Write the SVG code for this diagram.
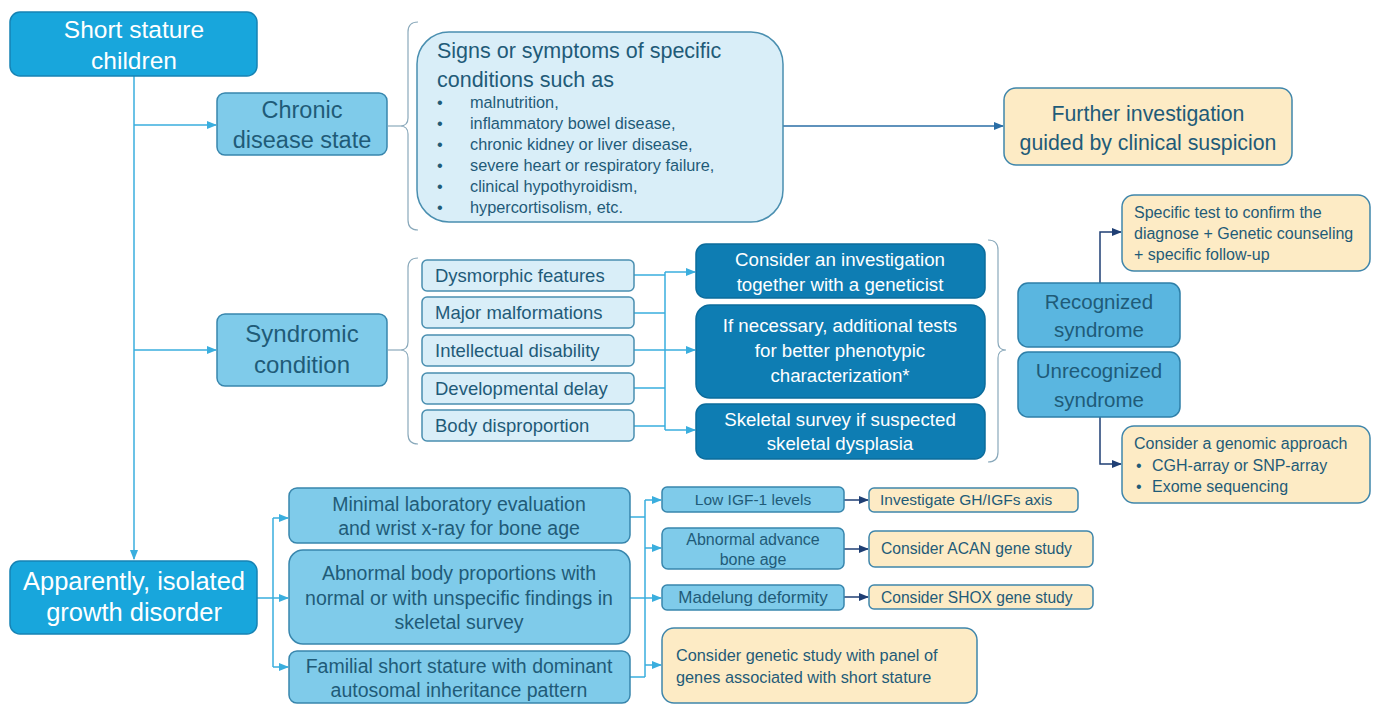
<svg xmlns="http://www.w3.org/2000/svg" width="1382" height="704" viewBox="0 0 1382 704">
<defs>
<style>
text{font-family:"Liberation Sans",Arial,sans-serif;}
.main{fill:#18a6dc;stroke:#1683b4;stroke-width:1.5;}
.mid{fill:#7fcbea;stroke:#3886ad;stroke-width:1.5;}
.med{fill:#5ab6e0;stroke:#2e7fa8;stroke-width:1.5;}
.pale{fill:#d9eef8;stroke:#4a8fb0;stroke-width:1.5;}
.dark{fill:#0e7db3;stroke:#0b6c9c;stroke-width:1.5;}
.tan{fill:#fdebc5;stroke:#3f86ab;stroke-width:1.5;}
.wt{fill:#ffffff;text-anchor:middle;}
.dt{fill:#1f5b78;}
.c{text-anchor:middle;}
.ln{fill:none;stroke:#3aaede;stroke-width:1.5;}
.nv{fill:none;stroke:#1f3f74;stroke-width:1.5;}
.bl{fill:none;stroke:#2a6ea6;stroke-width:1.5;}
.br{fill:none;stroke:#8aa9bb;stroke-width:1.2;}
</style>
<marker id="ac" viewBox="0 0 10 10" refX="9" refY="5" markerWidth="7" markerHeight="7" orient="auto"><path d="M0,1 L10,5 L0,9 z" fill="#3aaede"/></marker>
<marker id="an" viewBox="0 0 10 10" refX="9" refY="5" markerWidth="7" markerHeight="7" orient="auto"><path d="M0,1 L10,5 L0,9 z" fill="#1f3f74"/></marker>
<marker id="ab" viewBox="0 0 10 10" refX="9" refY="5" markerWidth="7" markerHeight="7" orient="auto"><path d="M0,1 L10,5 L0,9 z" fill="#2a6ea6"/></marker>
</defs>

<g id="connectors">
<path class="ln" d="M134,76 L134,559" marker-end="url(#ac)"/>
<path class="ln" d="M134,125 L216,125" marker-end="url(#ac)"/>
<path class="ln" d="M134,350 L216,350" marker-end="url(#ac)"/>
<path class="bl" d="M783,126 L1003,126" marker-end="url(#ab)"/>
<path class="br" d="M388,126 L400,126"/>
<path class="br" d="M388,350 L400,350"/>
<path class="br" d="M418,22 Q408,22 408,32 L408,118 Q408,126 400,126 Q408,126 408,134 L408,220 Q408,230 418,230"/>
<path class="br" d="M418,258 Q408,258 408,268 L408,342 Q408,350 400,350 Q408,350 408,358 L408,434 Q408,444 418,444"/>
<path class="br" d="M988,240 Q998,240 998,250 L998,342 Q998,350 1006,350 Q998,350 998,358 L998,452 Q998,462 988,462"/>
<path class="ln" d="M634,275 L665,275 M634,313 L665,313 M634,350 L665,350 M634,388 L665,388 M634,426 L665,426 M665,272 L665,430"/>
<path class="ln" d="M665,272 L695,272" marker-end="url(#ac)"/>
<path class="ln" d="M665,350 L695,350" marker-end="url(#ac)"/>
<path class="ln" d="M665,430 L695,430" marker-end="url(#ac)"/>
<path class="nv" d="M1100,283 L1100,232 L1121,232" marker-end="url(#an)"/>
<path class="nv" d="M1100,417 L1100,464 L1121,464" marker-end="url(#an)"/>
<path class="ln" d="M257,598 L273,598 M273,518 L273,667"/>
<path class="ln" d="M273,518 L288,518" marker-end="url(#ac)"/>
<path class="ln" d="M273,598 L288,598" marker-end="url(#ac)"/>
<path class="ln" d="M273,667 L288,667" marker-end="url(#ac)"/>
<path class="ln" d="M630,517 L645,517 M630,677 L645,677 M645,500 L645,677"/>
<path class="ln" d="M645,500 L661,500" marker-end="url(#ac)"/>
<path class="ln" d="M645,548 L661,548" marker-end="url(#ac)"/>
<path class="ln" d="M630,598 L661,598" marker-end="url(#ac)"/>
<path class="ln" d="M645,665 L661,665" marker-end="url(#ac)"/>
<path class="nv" d="M844,500 L868,500" marker-end="url(#an)"/>
<path class="nv" d="M844,549 L868,549" marker-end="url(#an)"/>
<path class="nv" d="M844,597 L868,597" marker-end="url(#an)"/>
</g>

<g id="short-stature">
<rect class="main" x="10" y="12" width="247" height="64" rx="10"/>
<text class="wt" x="134" y="38" font-size="24.5">Short stature</text>
<text class="wt" x="134" y="69" font-size="24.5">children</text>
</g>

<g id="chronic">
<rect class="mid" x="217" y="93" width="170" height="62" rx="8"/>
<text class="dt c" x="302" y="118" font-size="23.5">Chronic</text>
<text class="dt c" x="302" y="148" font-size="23.5">disease state</text>
</g>

<g id="signs">
<rect class="pale" x="417" y="32" width="366" height="190" rx="32"/>
<text class="dt" x="437" y="58" font-size="21.5">Signs or symptoms of specific</text>
<text class="dt" x="437" y="87" font-size="21.5">conditions such as</text>
<g class="dt" font-size="16.3">
<text x="437" y="108">•</text><text x="470" y="108">malnutrition,</text>
<text x="437" y="129">•</text><text x="470" y="129">inflammatory bowel disease,</text>
<text x="437" y="150">•</text><text x="470" y="150">chronic kidney or liver disease,</text>
<text x="437" y="171">•</text><text x="470" y="171">severe heart or respiratory failure,</text>
<text x="437" y="192">•</text><text x="470" y="192">clinical hypothyroidism,</text>
<text x="437" y="213">•</text><text x="470" y="213">hypercortisolism, etc.</text>
</g>
</g>

<g id="further">
<rect class="tan" x="1004" y="88" width="288" height="77" rx="12"/>
<text class="dt c" x="1148" y="121" font-size="21.3">Further investigation</text>
<text class="dt c" x="1148" y="150" font-size="21.3">guided by clinical suspicion</text>
</g>

<g id="syndromic">
<rect class="mid" x="217" y="314" width="170" height="72" rx="8"/>
<text class="dt c" x="302" y="342" font-size="24">Syndromic</text>
<text class="dt c" x="302" y="373" font-size="24">condition</text>
</g>

<g id="features" font-size="18.5">
<rect class="pale" x="422" y="260" width="212" height="31" rx="5"/>
<text class="dt" x="435" y="282">Dysmorphic features</text>
<rect class="pale" x="422" y="297" width="212" height="31" rx="5"/>
<text class="dt" x="435" y="319">Major malformations</text>
<rect class="pale" x="422" y="335" width="212" height="31" rx="5"/>
<text class="dt" x="435" y="357">Intellectual disability</text>
<rect class="pale" x="422" y="373" width="212" height="31" rx="5"/>
<text class="dt" x="435" y="395">Developmental delay</text>
<rect class="pale" x="422" y="410" width="212" height="31" rx="5"/>
<text class="dt" x="435" y="432">Body disproportion</text>
</g>

<g id="geneticist">
<rect class="dark" x="696" y="244" width="289" height="54" rx="10"/>
<text class="wt" x="840" y="266" font-size="18.7">Consider an investigation</text>
<text class="wt" x="840" y="291" font-size="18.7">together with a geneticist</text>
</g>
<g id="additional">
<rect class="dark" x="696" y="305" width="289" height="93" rx="14"/>
<text class="wt" x="840" y="332" font-size="18.7">If necessary, additional tests</text>
<text class="wt" x="840" y="357" font-size="18.7">for better phenotypic</text>
<text class="wt" x="840" y="382" font-size="18.7">characterization*</text>
</g>
<g id="skeletal">
<rect class="dark" x="696" y="404" width="289" height="55" rx="10"/>
<text class="wt" x="840" y="426" font-size="18.7">Skeletal survey if suspected</text>
<text class="wt" x="840" y="450" font-size="18.7">skeletal dysplasia</text>
</g>

<g id="recognized">
<rect class="med" x="1018" y="283" width="162" height="64" rx="10"/>
<text class="dt c" x="1099" y="309" font-size="20.5">Recognized</text>
<text class="dt c" x="1099" y="337" font-size="20.5">syndrome</text>
</g>
<g id="unrecognized">
<rect class="med" x="1018" y="352" width="162" height="65" rx="10"/>
<text class="dt c" x="1099" y="378" font-size="20.5">Unrecognized</text>
<text class="dt c" x="1099" y="407" font-size="20.5">syndrome</text>
</g>

<g id="specific-test" font-size="16">
<rect class="tan" x="1122" y="195" width="248" height="76" rx="12"/>
<text class="dt" x="1134" y="218">Specific test to confirm the</text>
<text class="dt" x="1134" y="239">diagnose + Genetic counseling</text>
<text class="dt" x="1134" y="260">+ specific follow-up</text>
</g>
<g id="genomic" font-size="16">
<rect class="tan" x="1122" y="426" width="248" height="77" rx="12"/>
<text class="dt" x="1134" y="449">Consider a genomic approach</text>
<text class="dt" x="1136" y="471">•</text><text class="dt" x="1152" y="471">CGH-array or SNP-array</text>
<text class="dt" x="1136" y="492">•</text><text class="dt" x="1152" y="492">Exome sequencing</text>
</g>

<g id="apparently">
<rect class="main" x="10" y="561" width="247" height="73" rx="10"/>
<text class="wt" x="134" y="590" font-size="25.5">Apparently, isolated</text>
<text class="wt" x="134" y="621" font-size="25.5">growth disorder</text>
</g>

<g id="minimal">
<rect class="mid" x="289" y="488" width="341" height="55" rx="8"/>
<text class="dt c" x="459" y="511" font-size="19.5">Minimal laboratory evaluation</text>
<text class="dt c" x="459" y="535" font-size="19.5">and wrist x-ray for bone age</text>
</g>
<g id="abnormal-proportions">
<rect class="mid" x="289" y="550" width="341" height="94" rx="14"/>
<text class="dt c" x="459" y="580" font-size="19.5">Abnormal body proportions with</text>
<text class="dt c" x="459" y="605" font-size="19.5">normal or with unspecific findings in</text>
<text class="dt c" x="459" y="629" font-size="19.5">skeletal survey</text>
</g>
<g id="familial">
<rect class="mid" x="289" y="651" width="341" height="52" rx="8"/>
<text class="dt c" x="459" y="673" font-size="19.5">Familial short stature with dominant</text>
<text class="dt c" x="459" y="697" font-size="19.5">autosomal inheritance pattern</text>
</g>

<g id="low-igf">
<rect class="mid" x="662" y="487" width="182" height="25" rx="5"/>
<text class="dt c" x="753" y="505" font-size="15.5">Low IGF-1 levels</text>
</g>
<g id="advance-bone">
<rect class="mid" x="662" y="528" width="182" height="41" rx="6"/>
<text class="dt c" x="753" y="545" font-size="16">Abnormal advance</text>
<text class="dt c" x="753" y="565" font-size="16">bone age</text>
</g>
<g id="madelung">
<rect class="mid" x="662" y="585" width="182" height="25" rx="5"/>
<text class="dt c" x="753" y="603" font-size="17">Madelung deformity</text>
</g>
<g id="gh-axis">
<rect class="tan" x="869" y="488" width="209" height="24" rx="5"/>
<text class="dt" x="880" y="505" font-size="15.5">Investigate GH/IGFs axis</text>
</g>
<g id="acan">
<rect class="tan" x="869" y="531" width="224" height="36" rx="6"/>
<text class="dt" x="881" y="554" font-size="15.7">Consider ACAN gene study</text>
</g>
<g id="shox">
<rect class="tan" x="869" y="585" width="224" height="24" rx="5"/>
<text class="dt" x="881" y="603" font-size="15.6">Consider SHOX gene study</text>
</g>
<g id="panel">
<rect class="tan" x="662" y="628" width="315" height="75" rx="12"/>
<text class="dt" x="676" y="661" font-size="16.3">Consider genetic study with panel of</text>
<text class="dt" x="676" y="683" font-size="16.3">genes associated with short stature</text>
</g>
</svg>
